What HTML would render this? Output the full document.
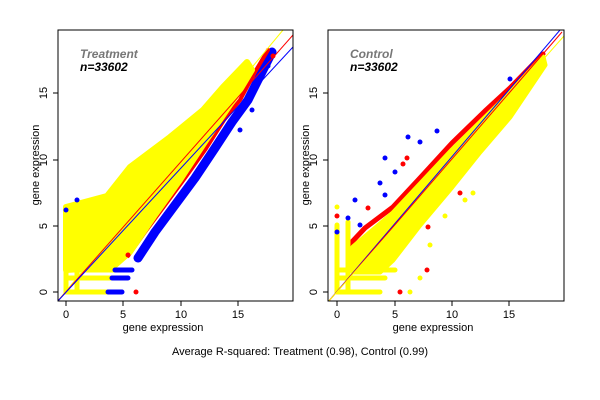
<!DOCTYPE html>
<html><head><style>body{margin:0;background:#fff}svg{display:block}text{font-family:"Liberation Sans",sans-serif}</style></head>
<body>
<svg width="600" height="400" viewBox="0 0 600 400" xmlns="http://www.w3.org/2000/svg">
<defs>
<clipPath id="c1"><rect x="58" y="30" width="235" height="271"/></clipPath>
<clipPath id="c2"><rect x="328" y="30" width="236" height="271"/></clipPath>
</defs>
<!-- LEFT PANEL -->
<g clip-path="url(#c1)">
<polyline points="272,52 262,72 248,100 232,122 215,148 195,178 175,205 155,232 138,258" fill="none" stroke="#0000ff" stroke-width="9" stroke-linejoin="round" stroke-linecap="round"/>
<polyline points="268,50 255,72 240,100 224,120 205,150 185,178 165,205 145,232 128,256" fill="none" stroke="#ff0000" stroke-width="4" stroke-linejoin="round" stroke-linecap="round"/>
<polygon points="66,207 107,196 130,167 170,137 203,110 223,87 247,62 252,70 240,90 228,108 205,142 180,180 155,215 130,252 113,267 66,270" fill="#ffff00" stroke="#ffff00" stroke-width="6" stroke-linejoin="round"/>
<g stroke-linecap="round" stroke-width="5">
<line x1="66" y1="292" x2="108" y2="292" stroke="#ffff00"/><line x1="108" y1="292" x2="122" y2="292" stroke="#0000ff"/>
<line x1="66" y1="278" x2="112" y2="278" stroke="#ffff00"/><line x1="112" y1="278" x2="128" y2="278" stroke="#0000ff"/>
<line x1="66" y1="270" x2="115" y2="270" stroke="#ffff00"/><line x1="115" y1="270" x2="132" y2="270" stroke="#0000ff"/>
<line x1="66" y1="292" x2="66" y2="224" stroke="#ffff00"/><line x1="77" y1="292" x2="77" y2="222" stroke="#ffff00"/>
</g>
<g fill="#0000ff"><circle cx="66" cy="210" r="2.5"/><circle cx="77" cy="200" r="2.5"/><circle cx="166" cy="214" r="2.5"/><circle cx="252" cy="110" r="2.5"/><circle cx="268" cy="66" r="2.5"/><circle cx="240" cy="130" r="2.5"/><circle cx="152" cy="240" r="2.5"/></g>
<g fill="#ff0000"><circle cx="136" cy="292" r="2.5"/><circle cx="273" cy="56" r="2.5"/><circle cx="128" cy="255" r="2.5"/></g>
<line x1="57" y1="302" x2="283" y2="30" stroke="#ffff00" stroke-width="1"/>
<line x1="57" y1="302" x2="293" y2="35" stroke="#ff0000" stroke-width="1"/>
<line x1="57" y1="302" x2="293" y2="47" stroke="#0000ff" stroke-width="1"/>
</g>
<rect x="58" y="30" width="235" height="271" fill="none" stroke="#000"/>
<text x="80" y="58" font-size="12" font-weight="bold" font-style="italic" fill="#777">Treatment</text>
<text x="80" y="71" font-size="12" font-weight="bold" font-style="italic" fill="#000">n=33602</text>
<g stroke="#000"><line x1="66" y1="301" x2="66" y2="306"/><line x1="123" y1="301" x2="123" y2="306"/><line x1="181" y1="301" x2="181" y2="306"/><line x1="238" y1="301" x2="238" y2="306"/>
<line x1="58" y1="292" x2="53" y2="292"/><line x1="58" y1="226" x2="53" y2="226"/><line x1="58" y1="160" x2="53" y2="160"/><line x1="58" y1="93" x2="53" y2="93"/></g>
<g font-size="11" text-anchor="middle"><text x="66" y="318">0</text><text x="123" y="318">5</text><text x="181" y="318">10</text><text x="238" y="318">15</text>
<text x="163" y="331">gene expression</text></g>
<g font-size="11" text-anchor="middle"><text transform="translate(47,292) rotate(-90)">0</text><text transform="translate(47,226) rotate(-90)">5</text><text transform="translate(47,160) rotate(-90)">10</text><text transform="translate(47,93) rotate(-90)">15</text>
<text transform="translate(39,165) rotate(-90)">gene expression</text></g>

<!-- RIGHT PANEL -->
<g clip-path="url(#c2)">
<polyline points="350,244 365,228 393,207 420,178 452,143 485,111 510,88 543,54" fill="none" stroke="#ff0000" stroke-width="5" stroke-linejoin="round" stroke-linecap="round"/>
<polygon points="353,247 393,213 452,150 510,93 543,57 545,65 510,117 480,152 452,187 420,225 393,260 380,272 353,272" fill="#ffff00" stroke="#ffff00" stroke-width="5" stroke-linejoin="round"/>
<g stroke-linecap="round" stroke-width="5">
<line x1="337" y1="292" x2="380" y2="292" stroke="#ffff00"/><line x1="337" y1="278" x2="385" y2="278" stroke="#ffff00"/><line x1="337" y1="270" x2="395" y2="270" stroke="#ffff00"/>
<line x1="337" y1="292" x2="337" y2="225" stroke="#ffff00"/><line x1="348" y1="292" x2="348" y2="222" stroke="#ffff00"/>
</g>
<g fill="#0000ff"><circle cx="380" cy="183" r="2.5"/><circle cx="385" cy="158" r="2.5"/><circle cx="408" cy="137" r="2.5"/><circle cx="437" cy="131" r="2.5"/><circle cx="510" cy="79" r="2.5"/><circle cx="355" cy="200" r="2.5"/><circle cx="337" cy="232" r="2.5"/><circle cx="348" cy="218" r="2.5"/><circle cx="360" cy="225" r="2.5"/><circle cx="420" cy="142" r="2.5"/><circle cx="395" cy="172" r="2.5"/><circle cx="385" cy="195" r="2.5"/></g>
<g fill="#ff0000"><circle cx="407" cy="158" r="2.5"/><circle cx="460" cy="193" r="2.5"/><circle cx="428" cy="227" r="2.5"/><circle cx="427" cy="270" r="2.5"/><circle cx="400" cy="292" r="2.5"/><circle cx="337" cy="216" r="2.5"/><circle cx="368" cy="208" r="2.5"/><circle cx="403" cy="164" r="2.5"/></g>
<g fill="#ffff00"><circle cx="473" cy="193" r="2.5"/><circle cx="445" cy="216" r="2.5"/><circle cx="410" cy="292" r="2.5"/><circle cx="420" cy="278" r="2.5"/><circle cx="337" cy="207" r="2.5"/><circle cx="498" cy="130" r="2.5"/><circle cx="465" cy="200" r="2.5"/><circle cx="430" cy="245" r="2.5"/></g>
<line x1="328" y1="302" x2="560" y2="30" stroke="#0000ff" stroke-width="1"/>
<line x1="328" y1="302" x2="562" y2="32" stroke="#ff0000" stroke-width="1"/>
<line x1="328" y1="302" x2="564" y2="36" stroke="#ffff00" stroke-width="1"/>
</g>
<rect x="328" y="30" width="236" height="271" fill="none" stroke="#000"/>
<text x="350" y="58" font-size="12" font-weight="bold" font-style="italic" fill="#777">Control</text>
<text x="350" y="71" font-size="12" font-weight="bold" font-style="italic" fill="#000">n=33602</text>
<g stroke="#000"><line x1="337" y1="301" x2="337" y2="306"/><line x1="395" y1="301" x2="395" y2="306"/><line x1="452" y1="301" x2="452" y2="306"/><line x1="509" y1="301" x2="509" y2="306"/>
<line x1="328" y1="292" x2="323" y2="292"/><line x1="328" y1="226" x2="323" y2="226"/><line x1="328" y1="160" x2="323" y2="160"/><line x1="328" y1="93" x2="323" y2="93"/></g>
<g font-size="11" text-anchor="middle"><text x="337" y="318">0</text><text x="395" y="318">5</text><text x="452" y="318">10</text><text x="509" y="318">15</text>
<text x="433" y="331">gene expression</text></g>
<g font-size="11" text-anchor="middle"><text transform="translate(317,292) rotate(-90)">0</text><text transform="translate(317,226) rotate(-90)">5</text><text transform="translate(317,160) rotate(-90)">10</text><text transform="translate(317,93) rotate(-90)">15</text>
<text transform="translate(309,165) rotate(-90)">gene expression</text></g>

<text x="300" y="355" font-size="11" text-anchor="middle">Average R-squared: Treatment (0.98), Control (0.99)</text>
</svg>
</body></html>
